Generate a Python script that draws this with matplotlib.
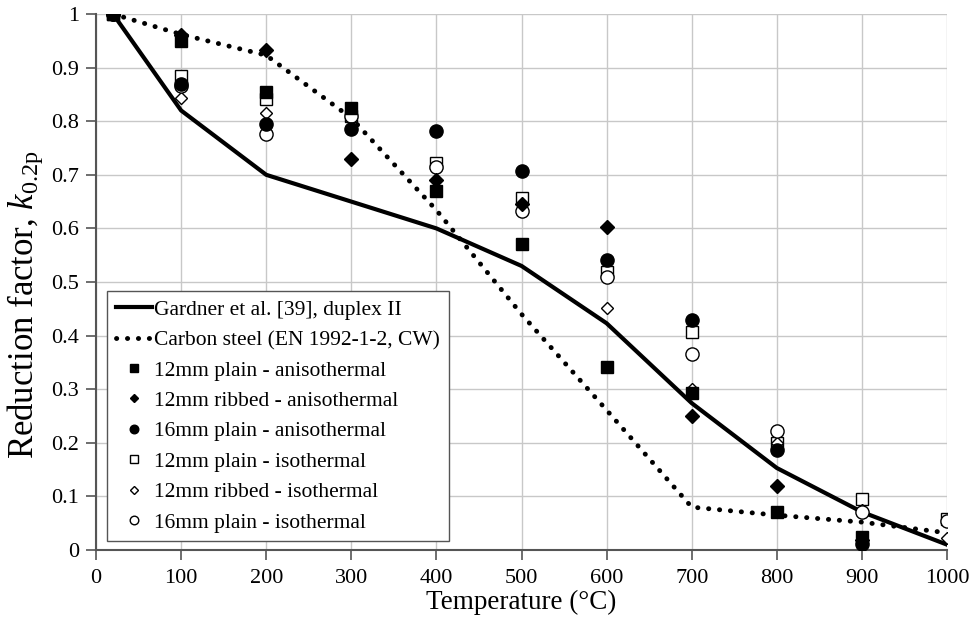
import matplotlib
matplotlib.use('Agg')
import matplotlib.pyplot as plt

# data
temps = [20, 100, 200, 300, 400, 500, 600, 700, 800, 900, 1000]
gardner = [1.0, 0.82, 0.70, 0.65, 0.60, 0.53, 0.423, 0.274, 0.153, 0.071, 0.01]
carbon = [1.0, 0.962, 0.923, 0.806, 0.634, 0.44, 0.261, 0.08, 0.065, 0.052, 0.032]

t_pts = [20, 100, 200, 300, 400, 500, 600, 700, 800, 900, 1000]
p12_aniso = [1.0, 0.95, 0.855, 0.825, 0.67, 0.57, 0.342, 0.293, 0.07, 0.025, None]
r12_aniso = [1.0, 0.96, 0.932, 0.73, 0.69, 0.645, 0.603, 0.25, 0.12, 0.018, None]
p16_aniso = [1.0, 0.87, 0.795, 0.785, 0.782, 0.708, 0.542, 0.43, 0.187, 0.012, None]
p12_iso = [1.0, 0.885, 0.842, 0.81, 0.722, 0.657, 0.518, 0.407, 0.2, 0.095, 0.058]
r12_iso = [1.0, 0.843, 0.815, 0.805, 0.712, 0.645, 0.452, 0.30, 0.2, 0.075, 0.022]
p16_iso = [1.0, 0.865, 0.777, 0.81, 0.715, 0.633, 0.51, 0.365, 0.222, 0.07, 0.055]

labels = ['Gardner et al. [39], duplex II',
          'Carbon steel (EN 1992-1-2, CW)',
          '12mm plain - anisothermal',
          '12mm ribbed - anisothermal',
          '16mm plain - anisothermal',
          '12mm plain - isothermal',
          '12mm ribbed - isothermal',
          '16mm plain - isothermal']

plt.rcParams['font.family'] = ['Liberation Serif', 'DejaVu Serif']
plt.rcParams['mathtext.fontset'] = 'custom'
plt.rcParams['mathtext.rm'] = 'Liberation Serif'
plt.rcParams['mathtext.it'] = 'Liberation Serif:italic'

fig = plt.figure(figsize=(9.71, 6.26), dpi=100)
ax = fig.add_axes([0.0989, 0.1214, 0.8764, 0.8562])


def xy(vals):
    xs = [t for t, v in zip(t_pts, vals) if v is not None]
    ys = [v for v in vals if v is not None]
    return xs, ys


ax.plot(temps, gardner, color='black', lw=3, label=labels[0], zorder=3)
ax.plot(temps, carbon, color='black', lw=3.5, linestyle=(0, (0.05, 2.2)),
        dash_capstyle='round', label=labels[1], zorder=3)

# isothermal (open) first, anisothermal (filled) on top
x, y = xy(p12_iso)
ax.plot(x, y, ls='none', marker='s', ms=9, mfc='white', mec='black', mew=1, label=labels[5], zorder=4)
x, y = xy(r12_iso)
ax.plot(x, y, ls='none', marker='D', ms=6.5, mfc='white', mec='black', mew=1, label=labels[6], zorder=4)
x, y = xy(p16_iso)
ax.plot(x, y, ls='none', marker='o', ms=9.5, mfc='white', mec='black', mew=1, label=labels[7], zorder=4)
x, y = xy(p12_aniso)
ax.plot(x, y, ls='none', marker='s', ms=9, color='black', label=labels[2], zorder=5)
x, y = xy(r12_aniso)
ax.plot(x, y, ls='none', marker='D', ms=7, color='black', label=labels[3], zorder=5)
x, y = xy(p16_aniso)
ax.plot(x, y, ls='none', marker='o', ms=9.5, color='black', label=labels[4], zorder=5)

ax.set_xlim(0, 1000)
ax.set_ylim(0, 1)
ax.set_xticks(range(0, 1001, 100))
ax.set_yticks([i / 10 for i in range(11)])
ax.set_yticklabels(['0', '0.1', '0.2', '0.3', '0.4', '0.5', '0.6', '0.7', '0.8', '0.9', '1'])
ax.grid(True, color='#c8c8c8', lw=1)
ax.set_axisbelow(True)
for s in ['top', 'right']:
    ax.spines[s].set_visible(False)
for s in ['left', 'bottom']:
    ax.spines[s].set_color('#555555')
    ax.spines[s].set_linewidth(1.5)
ax.tick_params(axis='both', labelsize=16, color='#555555', width=1.2, length=7, direction='out', pad=5)
ax.tick_params(axis='x', pad=7)

ax.set_xlabel('Temperature (°C)', fontsize=19.5, labelpad=1)
ax.set_ylabel('Reduction factor, $k_{0.2\\mathrm{p}}$', fontsize=25)
ax.yaxis.set_label_coords(-0.06, 0.457)

handles, labs = ax.get_legend_handles_labels()
order = [labs.index(l) for l in labels]
leg = ax.legend([handles[i] for i in order], [labs[i] for i in order],
                loc='upper left', bbox_to_anchor=(0.013, 0.483), borderaxespad=0,
                fontsize=15.5, markerscale=0.65, handlelength=1.7, handletextpad=0.1,
                labelspacing=0.48, fancybox=False, framealpha=1, edgecolor='#555555')
leg.get_frame().set_linewidth(1)

fig.savefig('out.png', dpi=100)
